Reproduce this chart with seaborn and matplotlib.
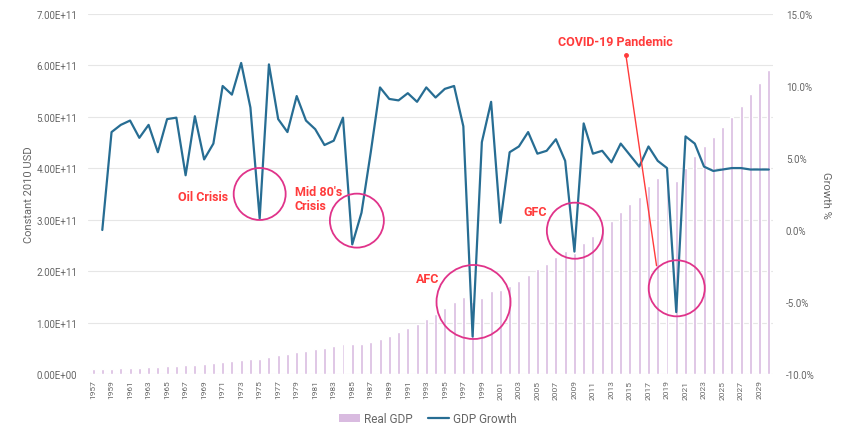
import numpy as np
import pandas as pd
import matplotlib
matplotlib.use("Agg")
import matplotlib.pyplot as plt
from matplotlib.lines import Line2D
from matplotlib.patches import Patch
from matplotlib.ticker import FuncFormatter, MultipleLocator
import seaborn as sns

# ---- data -------------------------------------------------------------
years = list(range(1957, 2031))

# Real GDP, constant 2010 USD (billions)
real_gdp_bn = [
    9.5, 9.5, 10.1, 10.9, 11.7, 12.5, 13.4, 14.1, 15.2, 16.4,
    17.0, 18.4, 19.3, 20.4, 22.5, 24.6, 27.5, 29.8, 30.0, 33.5,
    36.1, 38.5, 42.1, 45.3, 48.5, 51.3, 54.5, 58.8, 58.2, 58.9,
    62.1, 68.3, 74.5, 81.2, 88.9, 96.8, 106.4, 116.3, 127.8, 140.6,
    150.6, 139.4, 148.2, 161.6, 162.4, 171.2, 181.1, 193.4, 203.6, 214.8,
    228.2, 239.0, 235.4, 255.0, 268.5, 283.2, 296.6, 314.3, 330.4, 344.7,
    364.6, 381.9, 398.2, 375.6, 400.0, 424.0, 442.7, 460.6, 480.0, 500.6,
    521.6, 543.5, 566.4, 590.2,
]

# GDP growth, % (no figure for the first year)
gdp_growth = [
    np.nan, 0.0, 6.8, 7.3, 7.6, 6.4, 7.3, 5.4, 7.7, 7.8,
    3.8, 7.9, 4.9, 6.0, 10.0, 9.4, 11.6, 8.5, 0.8, 11.5,
    7.7, 6.8, 9.3, 7.6, 7.0, 5.9, 6.2, 7.8, -1.0, 1.2,
    5.4, 9.9, 9.1, 9.0, 9.5, 8.9, 9.9, 9.2, 9.8, 10.0,
    7.2, -7.4, 6.1, 8.9, 0.5, 5.4, 5.8, 6.8, 5.3, 5.5,
    6.3, 4.8, -1.5, 7.4, 5.3, 5.5, 4.7, 6.0, 5.2, 4.4,
    5.8, 4.8, 4.3, -5.7, 6.5, 6.0, 4.4, 4.1, 4.2, 4.3,
    4.3, 4.2, 4.2, 4.2,
]

df = pd.DataFrame({
    "year": years,
    "real_gdp": np.array(real_gdp_bn) * 1e9,
    "growth": gdp_growth,
})

# ---- styling ------------------------------------------------------------
sns.set_theme(style="white")
plt.rcParams["font.family"] = ["Roboto", "DejaVu Sans"]

BAR_COLOR = "#d9bbe0"
LINE_COLOR = "#276d93"
RING_COLOR = "#e0338a"
NOTE_COLOR = "#ff3b3b"
TICK_COLOR = "#666666"

fig = plt.figure(figsize=(8.42, 4.27), dpi=100)
ax = fig.add_axes([0.105, 0.1218, 0.8136, 0.8431])

sns.barplot(data=df, x="year", y="real_gdp", native_scale=True,
            color=BAR_COLOR, saturation=1, width=0.32, ax=ax)
ax.set_xlim(1956.5, 2030.5)
ax.set_ylim(0, 7e11)
ax.yaxis.set_major_locator(MultipleLocator(1e11))
ax.yaxis.set_major_formatter(FuncFormatter(lambda v, _: f"{v:.2E}"))
ax.grid(axis="y", color="#e6e6e6", linewidth=0.8)
ax.set_axisbelow(True)
ax.set_xticks(years[::2])
ax.set_xticklabels([str(y) for y in years[::2]], rotation=90)
ax.tick_params(axis="x", length=0, pad=4, labelsize=6, labelcolor=TICK_COLOR)
ax.tick_params(axis="y", length=0, pad=8, labelsize=7, labelcolor=TICK_COLOR)
ax.set_xlabel("")
ax.set_ylabel("Constant 2010 USD", fontsize=8, color=TICK_COLOR, labelpad=1.5)
for s in ax.spines.values():
    s.set_visible(False)

ax2 = ax.twinx()
sns.lineplot(data=df, x="year", y="growth", color=LINE_COLOR,
             linewidth=1.6, ax=ax2)
ax2.set_ylim(-10, 15)
ax2.yaxis.set_major_locator(MultipleLocator(5))
ax2.yaxis.set_major_formatter(FuncFormatter(lambda v, _: f"{v:.1f}%"))
ax2.tick_params(axis="y", length=0, pad=9, labelsize=7, labelcolor=TICK_COLOR)
ax2.set_ylabel("Growth %", fontsize=8, color=TICK_COLOR, rotation=270,
               labelpad=12)
ax2.grid(False)
for s in ax2.spines.values():
    s.set_visible(False)

# ---- crisis rings and notes -------------------------------------------
rings = [
    (1975.0, 2.5, 1400),
    (1985.5, 0.65, 1510),
    (1998.1, -5.0, 2840),
    (2009.05, -0.05, 1630),
    (2020.05, -4.05, 1630),
]
for x, y, s in rings:
    ax2.scatter([x], [y], s=s, facecolors="none", edgecolors=RING_COLOR,
                linewidths=1.3, zorder=5)

note_kw = dict(color=NOTE_COLOR, fontsize=9, fontweight="bold", zorder=6)
ax2.text(1971.6, 2.35, "Oil Crisis", ha="right", va="center", **note_kw)
ax2.text(1978.8, 2.2, "Mid 80's\nCrisis", ha="left", va="center",
         linespacing=1.15, **note_kw)
ax2.text(1993.1, -3.4, "AFC", ha="center", va="center", **note_kw)
ax2.text(2004.8, 1.27, "GFC", ha="center", va="center", **note_kw)
ax2.text(2013.4, 13.1, "COVID-19 Pandemic", ha="center", va="center",
         **note_kw)
ax2.plot([2014.56, 2017.87], [12.15, -2.48], color=NOTE_COLOR,
         linewidth=1.0, zorder=6)
ax2.plot([2014.56], [12.15], marker="o", markersize=2.5, color=NOTE_COLOR,
         zorder=6)

# ---- legend -------------------------------------------------------------
handles = [
    Patch(facecolor=BAR_COLOR, edgecolor="none", label="Real GDP"),
    Line2D([0], [0], color=LINE_COLOR, linewidth=1.6, label="GDP Growth"),
]
fig.legend(handles=handles, loc="center", bbox_to_anchor=(0.508, 0.017),
           ncol=2, frameon=False, fontsize=8.5, labelcolor=TICK_COLOR,
           handlelength=1.8, handleheight=0.6, columnspacing=1.3,
           handletextpad=0.3)

fig.savefig("out.png", dpi=100)
